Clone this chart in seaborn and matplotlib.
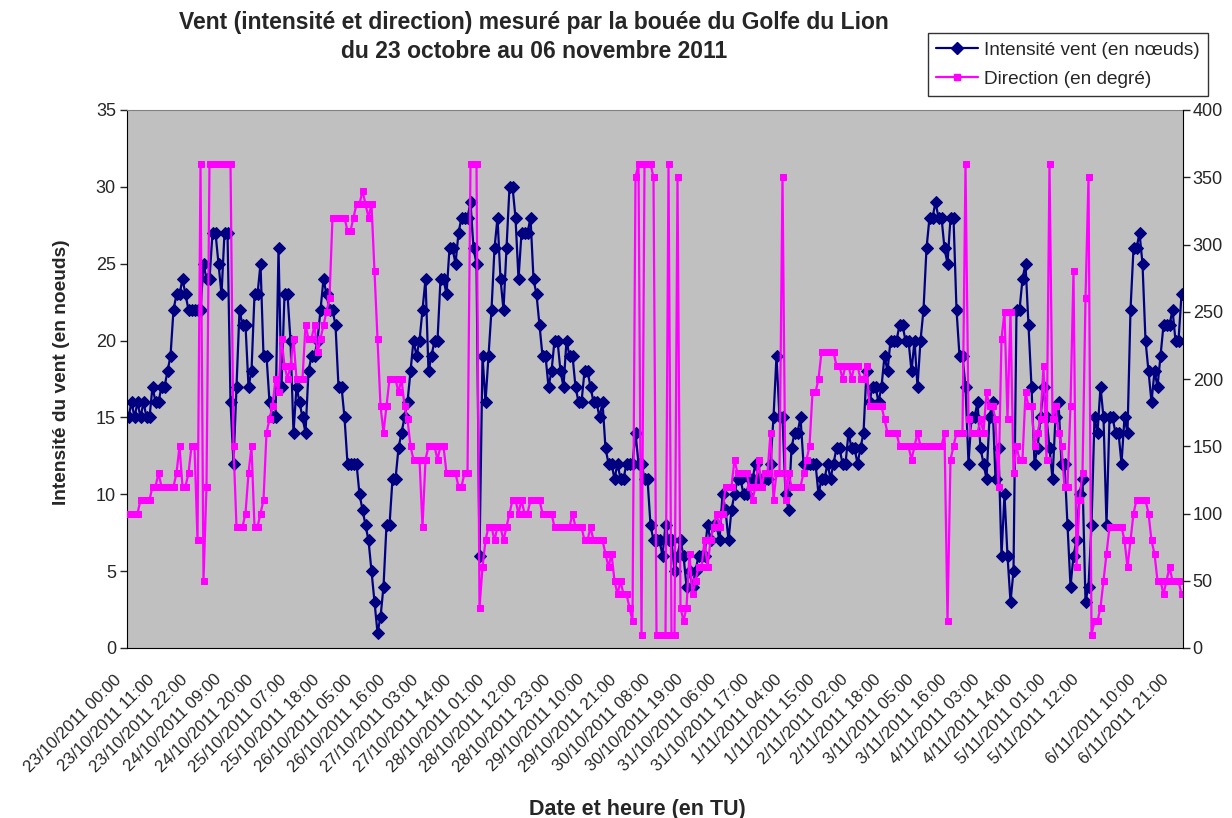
import numpy as np
import pandas as pd
import matplotlib
matplotlib.use("Agg")
import matplotlib.pyplot as plt
import matplotlib.transforms as mtransforms
from matplotlib.lines import Line2D
from matplotlib.ticker import FixedLocator
import seaborn as sns

# Intensite du vent (noeuds), une valeur par heure (categorie)
intensite = [
    15, 16, 15, 16, 15, 16, 15, 15, 17, 16,
    16, 17, 17, 18, 19, 22, 23, 23, 24, 23,
    22, 22, 22, 22, 22, 25, 24, 24, 27, 27,
    25, 23, 27, 27, 16, 12, 17, 22, 21, 21,
    17, 18, 23, 23, 25, 19, 19, 16, 15, 15,
    26, 17, 23, 23, 20, 14, 17, 16, 15, 14,
    18, 19, 19, 20, 22, 24, 23, 22, 22, 21,
    17, 17, 15, 12, 12, 12, 12, 10, 9, 8,
    7, 5, 3, 1, 2, 4, 8, 8, 11, 11,
    13, 14, 15, 16, 18, 20, 19, 20, 22, 24,
    18, 19, 20, 20, 24, 24, 23, 26, 26, 25,
    27, 28, 28, 28, 29, 26, 25, 6, 19, 16,
    19, 22, 26, 28, 24, 22, 26, 30, 30, 28,
    24, 27, 27, 27, 28, 24, 23, 21, 19, 19,
    17, 18, 20, 20, 18, 17, 20, 19, 19, 17,
    16, 16, 18, 18, 17, 16, 16, 15, 16, 13,
    12, 12, 11, 12, 11, 11, 12, 12, 12, 14,
    12, 12, 11, 11, 8, 7, 7, 7, 6, 8,
    7, 7, 5, 6, 7, 6, 4, 5, 4, 5,
    6, 6, 6, 8, 7, 8, 8, 7, 10, 9,
    7, 9, 10, 11, 11, 10, 10, 11, 11, 12,
    11, 11, 11, 11, 12, 15, 19, 15, 15, 10,
    9, 13, 14, 14, 15, 12, 12, 12, 12, 12,
    10, 11, 11, 12, 11, 12, 13, 13, 12, 12,
    14, 13, 13, 12, 13, 14, 18, 16, 17, 17,
    16, 17, 19, 18, 20, 20, 20, 21, 21, 20,
    20, 18, 20, 17, 20, 22, 26, 28, 28, 29,
    28, 28, 26, 25, 28, 28, 22, 19, 19, 17,
    12, 15, 15, 16, 13, 12, 11, 15, 16, 11,
    13, 6, 10, 6, 3, 5, 22, 22, 24, 25,
    21, 17, 12, 13, 15, 17, 15, 13, 11, 15,
    16, 12, 12, 8, 4, 6, 7, 10, 11, 3,
    4, 8, 15, 14, 17, 15, 8, 15, 15, 14,
    14, 12, 15, 14, 22, 26, 26, 27, 25, 20,
    18, 16, 18, 17, 19, 21, 21, 21, 22, 20,
    20, 23,
]

# Direction du vent (degres)
direction = [
    100, 100, 100, 100, 110, 110, 110, 110, 120, 120,
    130, 120, 120, 120, 120, 120, 130, 150, 120, 120,
    130, 150, 150, 80, 360, 50, 120, 360, 360, 360,
    360, 360, 360, 360, 360, 150, 90, 90, 90, 100,
    130, 150, 90, 90, 100, 110, 160, 170, 180, 200,
    190, 230, 210, 200, 210, 230, 200, 200, 200, 240,
    230, 230, 240, 220, 230, 240, 250, 260, 320, 320,
    320, 320, 320, 310, 310, 320, 330, 330, 340, 330,
    320, 330, 280, 230, 180, 160, 180, 200, 200, 200,
    190, 200, 180, 170, 150, 140, 140, 140, 90, 140,
    150, 150, 150, 140, 150, 150, 130, 130, 130, 130,
    120, 120, 130, 130, 360, 360, 360, 30, 60, 80,
    90, 90, 80, 90, 90, 80, 90, 100, 110, 110,
    100, 110, 100, 100, 110, 110, 110, 110, 100, 100,
    100, 100, 90, 90, 90, 90, 90, 90, 100, 90,
    90, 90, 80, 80, 90, 80, 80, 80, 80, 70,
    60, 70, 50, 40, 50, 40, 40, 30, 20, 350,
    360, 10, 360, 360, 360, 350, 10, 10, 10, 10,
    360, 10, 10, 350, 30, 20, 30, 70, 40, 50,
    60, 60, 80, 60, 80, 90, 100, 90, 100, 120,
    120, 120, 140, 130, 130, 130, 130, 120, 110, 120,
    140, 120, 130, 130, 160, 110, 130, 130, 350, 110,
    130, 120, 120, 120, 120, 130, 140, 150, 190, 190,
    200, 220, 220, 220, 220, 220, 210, 210, 200, 210,
    210, 200, 210, 210, 200, 200, 210, 180, 180, 180,
    180, 180, 170, 160, 160, 160, 160, 150, 150, 150,
    150, 140, 150, 160, 150, 150, 150, 150, 150, 150,
    150, 150, 160, 20, 140, 150, 160, 160, 160, 360,
    170, 160, 160, 160, 170, 160, 190, 180, 180, 170,
    120, 230, 250, 170, 250, 130, 150, 140, 140, 190,
    180, 180, 150, 160, 170, 210, 140, 360, 170, 180,
    160, 150, 120, 120, 180, 280, 60, 110, 130, 260,
    350, 10, 20, 20, 30, 50, 70, 90, 90, 90,
    90, 90, 80, 60, 80, 100, 110, 110, 110, 110,
    100, 80, 70, 50, 50, 40, 50, 60, 50, 50,
    50, 40,
]

# Etiquettes de l'axe des abscisses et leur position (indice de categorie)
x_labels = [
    "23/10/2011 00:00", "23/10/2011 11:00", "23/10/2011 22:00",
    "24/10/2011 09:00", "24/10/2011 20:00", "25/10/2011 07:00",
    "25/10/2011 18:00", "26/10/2011 05:00", "26/10/2011 16:00",
    "27/10/2011 03:00", "27/10/2011 14:00", "28/10/2011 01:00",
    "28/10/2011 12:00", "28/10/2011 23:00", "29/10/2011 10:00",
    "29/10/2011 21:00", "30/10/2011 08:00", "30/10/2011 19:00",
    "31/10/2011 06:00", "31/10/2011 17:00", "1/11/2011 04:00",
    "1/11/2011 15:00", "2/11/2011 02:00", "2/11/2011 18:00",
    "3/11/2011 05:00", "3/11/2011 16:00", "4/11/2011 03:00",
    "4/11/2011 14:00", "5/11/2011 01:00", "5/11/2011 12:00",
    "6/11/2011 10:00", "6/11/2011 21:00",
]
x_label_pos = list(range(0, 320, 11)) + [338, 349]

left_ticks = [0, 5, 10, 15, 20, 25, 30, 35]
right_ticks = [0, 50, 100, 150, 200, 250, 300, 350, 400]

NAVY = "#000080"
MAGENTA = "#FF00FF"

sns.set_style("white")
plt.rcParams["font.family"] = ["Liberation Sans", "DejaVu Sans"]

df = pd.DataFrame({
    "idx": np.arange(len(intensite)),
    "intensite": intensite,
    "direction": direction,
})
n = len(df)

W, H = 1232, 818
fig = plt.figure(figsize=(W / 100, H / 100), dpi=100)
ax = fig.add_axes([127 / W, 1 - 648 / H, (1183 - 127) / W, (648 - 110) / H])
ax.set_facecolor("#C0C0C0")

sns.lineplot(data=df, x="idx", y="intensite", ax=ax, color=NAVY,
             marker="D", markersize=5.8, markeredgecolor=NAVY,
             linewidth=1.6, legend=False)

ax2 = ax.twinx()
sns.lineplot(data=df, x="idx", y="direction", ax=ax2, color=MAGENTA,
             marker="s", markersize=4, markeredgecolor=MAGENTA,
             linewidth=1.6, legend=False)

ax.set_xlim(-0.5, n - 0.5)
ax.set_ylim(0, 35)
ax2.set_ylim(0, 400)

# axes Y
ax.set_yticks(left_ticks)
ax2.set_yticks(right_ticks)
ax.tick_params(axis="y", direction="out", length=5, width=1, labelsize=13, pad=3)
ax2.tick_params(axis="y", direction="out", length=5, width=1, labelsize=13, pad=2)
ax.set_ylabel("Intensité du vent (en noeuds)", fontsize=13.8, fontweight="bold")
ax.yaxis.set_label_coords(-0.054, 0.513)
ax2.set_ylabel("")

# axe X : graduations a chaque categorie, etiquettes toutes les 11
ax.set_xticks(x_label_pos)
ax.set_xticklabels(x_labels, rotation=45, ha="right", va="center",
                   rotation_mode="anchor", fontsize=12.2)
ax.xaxis.set_minor_locator(FixedLocator(np.arange(n + 1) - 0.5))
ax.tick_params(axis="x", which="major", length=0, pad=21)
ax.tick_params(axis="x", which="minor", direction="inout", length=10, width=0.8)
offset = mtransforms.ScaledTranslation(-9 / 100, 0, fig.dpi_scale_trans)
for lab in ax.get_xticklabels():
    lab.set_transform(lab.get_transform() + offset)
ax.set_xlabel("")
ax2.tick_params(axis="x", which="both", length=0)

for side in ["left", "bottom"]:
    ax.spines[side].set_color("black")
ax.spines["top"].set_color("#808080")
ax.spines["right"].set_visible(False)
for side in ["left", "top", "bottom"]:
    ax2.spines[side].set_visible(False)
ax2.spines["right"].set_color("black")

# textes
fig.text(534 / W, 1 - 37 / H,
         "Vent (intensité et direction) mesuré par la bouée du Golfe du Lion\n"
         "du 23 octobre au 06 novembre 2011",
         ha="center", va="center", fontsize=16.5, fontweight="bold", linespacing=1.35)
fig.text(637 / W, 1 - 809 / H, "Date et heure (en TU)",
         ha="center", va="center", fontsize=15.5, fontweight="bold")

handles = [
    Line2D([], [], color=NAVY, marker="D", markersize=5.8, linewidth=1.6),
    Line2D([], [], color=MAGENTA, marker="s", markersize=4, linewidth=1.6),
]
leg = fig.legend(handles, ["Intensité vent (en nœuds)", "Direction (en degré)"],
                 loc="upper right", bbox_to_anchor=(1208 / W, 1 - 33 / H),
                 fontsize=13.7, frameon=True, fancybox=False, shadow=False,
                 handlelength=2.2, handletextpad=0.3, borderpad=0.45,
                 labelspacing=0.6, borderaxespad=0)
leg.get_frame().set_edgecolor("black")
leg.get_frame().set_linewidth(1)

fig.savefig("out.png", dpi=100)
